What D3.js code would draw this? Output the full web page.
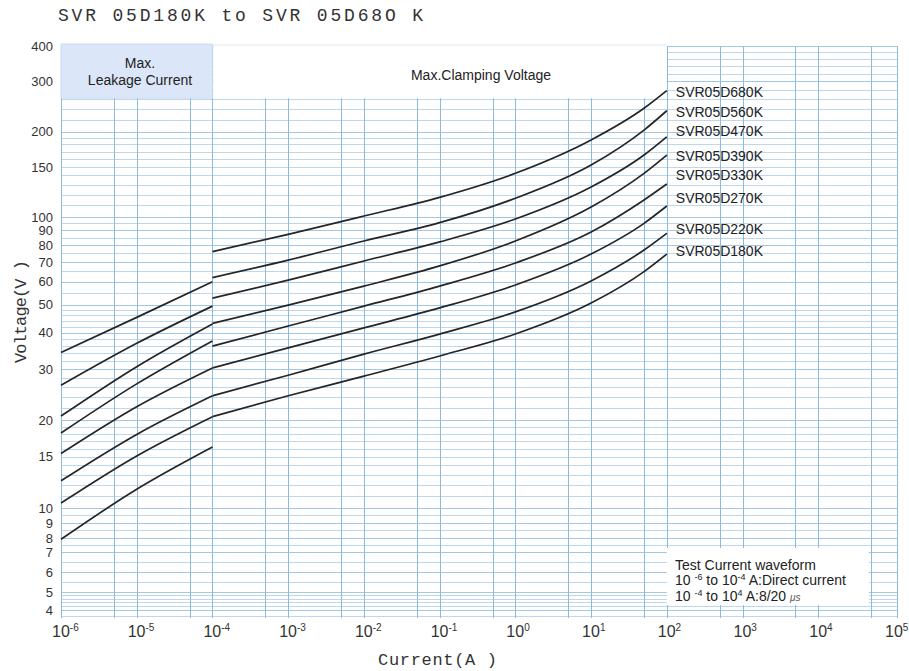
<!DOCTYPE html>
<html lang="en">
<head>
<meta charset="UTF-8">
<title>SVR 05D180K to SVR 05D680K</title>
<script src="https://cdn.jsdelivr.net/npm/d3@7"></script>
<style>
    body { margin: 0; background: #fff; }
    svg { display: block; }
</style>
</head>
<body>
<script>
'use strict';
// device names, top curve first
var models = ['SVR05D680K', 'SVR05D560K', 'SVR05D470K', 'SVR05D390K',
              'SVR05D330K', 'SVR05D270K', 'SVR05D220K', 'SVR05D180K'];

// leakage region (A) and voltages per model
var leakCurrent = [1e-6, 1e-5, 1e-4];
var leakVolts = [
    [34.2, 45.2, 59.9],
    [26.4, 36.8, 49.4],
    [20.7, 30.6, 42.9],
    [18.1, 26.7, 37.5],
    [15.4, 22.3, 30.3],
    [12.4, 17.9, 24.3],
    [10.4, 15.1, 20.6],
    [7.9, 11.6, 16.2]
];

// clamping region (A) and voltages per model
var clampCurrent = [1e-4, 1e-3, 1e-2, 1e-1, 1, 10, 50, 100];
var clampVolts = [
    [76.0, 87.2, 100.8, 117.3, 142.5, 186.7, 241.4, 278.5],
    [61.9, 71.1, 82.7, 95.6, 116.4, 152.4, 202.3, 236.7],
    [52.6, 60.7, 70.6, 82.1, 98.4, 127.5, 165.3, 191.6],
    [43.1, 49.8, 57.9, 67.9, 82.7, 108.4, 142.5, 165.3],
    [36.0, 42.2, 49.4, 57.9, 69.5, 88.8, 114.8, 130.7],
    [30.3, 35.5, 41.6, 48.7, 58.4, 74.6, 95.1, 109.3],
    [24.3, 28.6, 33.8, 39.6, 47.2, 60.3, 77.0, 87.9],
    [20.6, 24.3, 28.4, 33.3, 39.6, 50.6, 64.9, 74.6]
];
// where each name label sits (V)
var labelVolts = [275, 234, 201, 164, 140.6, 116.6, 91, 76.7];

var yTickValues = [4, 5, 6, 7, 8, 9, 10, 15, 20, 30, 40, 50, 60, 70, 80, 90, 100, 150, 200, 300, 400];
var xTickExp = [-6, -5, -4, -3, -2, -1, 0, 1, 2, 3, 4, 5];

var w = 909, h = 671;
var svg = d3.select('body').append('svg')
    .attr('width', w)
    .attr('height', h);

var x = d3.scaleLog().domain([1e-6, 1e5]).range([61, 894]);
// the printed paper is uneven below 10 V, so the scale follows its labels there
var y = d3.scaleLog()
    .domain([3.72, 4, 5, 6, 7, 8, 9, 10, 100, 400])
    .range([618, 610, 592, 572, 552, 538, 523, 508, 217, 46]);

var pLeft = x(1e-6), pRight = x(1e5), pTop = y(400), pBottom = y(3.72);

// ---- grid ----
var grid = svg.append('g').attr('shape-rendering', 'crispEdges');
var mant = [1, 1.1, 1.2, 1.3, 1.4, 1.5, 1.6, 1.7, 1.8, 1.9, 2, 2.2, 2.4, 2.6, 2.8,
            3, 3.2, 3.4, 3.6, 3.8, 4, 4.2, 4.4, 4.6, 4.8, 5, 5.5, 6, 6.5, 7, 7.5, 8, 8.5, 9, 9.5];
var hLines = [];
[1, 10, 100].forEach(function(d) {
    mant.forEach(function(m) {
        var v = +(m * d).toPrecision(4);
        if (v >= 3.72 && v <= 400) hLines.push(v);
    });
});
hLines.push(400);
grid.selectAll('line.h')
    .data(hLines)
    .enter()
    .append('line')
    .attr('class', 'h')
    .attr('x1', pLeft).attr('x2', pRight + 3)
    .attr('y1', function(d) { return Math.round(y(d)) + 0.5; })
    .attr('y2', function(d) { return Math.round(y(d)) + 0.5; })
    .attr('stroke', function(d) {
        var m = d / Math.pow(10, Math.floor(Math.log10(d) + 1e-9));
        return Math.abs(m - Math.round(m)) < 1e-6 ? '#a3c6e5' : '#bfd7ed';
    })
    .attr('stroke-width', 1);

var vLines = [];
for (var k = -6; k <= 4; k++) {
    vLines.push(Math.pow(10, k));
    vLines.push(5 * Math.pow(10, k));
}
vLines.push(1e5 * 1.1);
grid.selectAll('line.v')
    .data(vLines)
    .enter()
    .append('line')
    .attr('class', 'v')
    .attr('x1', function(d) { return Math.round(x(d)) + 0.5; })
    .attr('x2', function(d) { return Math.round(x(d)) + 0.5; })
    .attr('y1', pTop).attr('y2', pBottom)
    .attr('stroke', '#8dbbe0')
    .attr('stroke-width', 1);

// ---- header boxes ----
svg.append('rect')
    .attr('x', x(1e-6)).attr('y', pTop - 2)
    .attr('width', x(1e-4) - x(1e-6)).attr('height', y(262) - pTop + 2)
    .attr('fill', '#dbe7f8')
    .attr('stroke', '#c2d8ee').attr('stroke-width', 0.8);
svg.append('rect')
    .attr('x', x(1e-4) + 1).attr('y', pTop - 2)
    .attr('width', x(100) - x(1e-4) - 1).attr('height', y(262) - pTop + 2)
    .attr('fill', '#fff');
svg.append('line')
    .attr('x1', x(1e-4)).attr('x2', x(100))
    .attr('y1', pTop - 1).attr('y2', pTop - 1)
    .attr('stroke', '#d6e3ee').attr('stroke-width', 0.8);

var head = svg.append('g')
    .attr('font-family', '"Liberation Sans", Arial, sans-serif')
    .attr('font-size', '14px')
    .attr('fill', '#222')
    .attr('text-anchor', 'middle');
head.append('text').attr('x', 140).attr('y', 68).text('Max.');
head.append('text').attr('x', 140).attr('y', 85).text('Leakage Current');
head.append('text').attr('x', 481).attr('y', 80).text('Max.Clamping Voltage');

// ---- legend box ----
svg.append('rect')
    .attr('x', x(100)).attr('y', 548)
    .attr('width', 202).attr('height', 57)
    .attr('fill', '#fff');
var note = svg.append('text')
    .attr('font-family', '"Liberation Sans", Arial, sans-serif')
    .attr('font-size', '14px')
    .attr('fill', '#222');
function sup(parent, txt, after) {
    parent.append('tspan').attr('font-size', '9px').attr('dy', -5).text(txt);
    parent.append('tspan').attr('dy', 5).text(after);
}
note.append('tspan').attr('x', 675).attr('y', 570).text('Test Current waveform');
note.append('tspan').attr('x', 675).attr('y', 585).text('10 ');
sup(note, '-6', ' to 10');
sup(note, '-4', ' A:Direct current');
note.append('tspan').attr('x', 675).attr('y', 601).text('10 ');
sup(note, '-4', ' to 10');
sup(note, '4', ' A:8/20 ');
note.append('tspan').attr('font-size', '10px').attr('font-style', 'italic').attr('fill', '#555').text('\u03bcs');

// ---- curves ----
var line = d3.line()
    .x(function(d) { return x(d[0]); })
    .y(function(d) { return y(d[1]); })
    .curve(d3.curveMonotoneX);

var curves = svg.append('g')
    .attr('fill', 'none')
    .attr('stroke', '#252525')
    .attr('stroke-width', 1.7);
curves.selectAll('path.leak')
    .data(leakVolts)
    .enter()
    .append('path')
    .attr('class', 'leak')
    .attr('d', function(v) { return line(leakCurrent.map(function(c, i) { return [c, v[i]]; })); });
curves.selectAll('path.clamp')
    .data(clampVolts)
    .enter()
    .append('path')
    .attr('class', 'clamp')
    .attr('d', function(v) { return line(clampCurrent.map(function(c, i) { return [c, v[i]]; })); });

svg.append('g')
    .selectAll('text')
    .data(models)
    .enter()
    .append('text')
    .attr('x', x(100) + 9)
    .attr('y', function(d, i) { return y(labelVolts[i]); })
    .attr('dy', '0.36em')
    .attr('font-family', '"Liberation Sans", Arial, sans-serif')
    .attr('font-size', '14px')
    .attr('fill', '#222')
    .text(function(d) { return d; });

// ---- axes labels ----
svg.append('g')
    .selectAll('text')
    .data(yTickValues)
    .enter()
    .append('text')
    .attr('x', 53)
    .attr('y', function(d) { return y(d); })
    .attr('dy', '0.36em')
    .attr('text-anchor', 'end')
    .attr('font-family', '"Liberation Sans", Arial, sans-serif')
    .attr('font-size', '13px')
    .attr('fill', '#333')
    .text(function(d) { return d; });

var xt = svg.append('g')
    .selectAll('text')
    .data(xTickExp)
    .enter()
    .append('text')
    .attr('x', function(d) { return x(Math.pow(10, d)) - 9; })
    .attr('y', 637)
    .attr('font-family', '"Liberation Sans", Arial, sans-serif')
    .attr('font-size', '16px')
    .attr('fill', '#333');
xt.append('tspan').text('10');
xt.append('tspan')
    .attr('dy', -6)
    .attr('font-size', '10px')
    .text(function(d) { return d; });

svg.append('text')
    .attr('x', 378).attr('y', 665)
    .attr('textLength', 119)
    .attr('lengthAdjust', 'spacing')
    .attr('font-family', '"Liberation Mono", "Courier New", monospace')
    .attr('font-size', '17px')
    .attr('fill', '#333')
    .text('Current(A )');

svg.append('text')
    .attr('transform', 'translate(26,363) rotate(-90)')
    .attr('textLength', 103)
    .attr('lengthAdjust', 'spacing')
    .attr('font-family', '"Liberation Mono", "Courier New", monospace')
    .attr('font-size', '17px')
    .attr('fill', '#333')
    .text('Voltage(V )');

svg.append('text')
    .attr('x', 58).attr('y', 21)
    .attr('textLength', 365)
    .attr('lengthAdjust', 'spacing')
    .attr('font-family', '"Liberation Mono", "Courier New", monospace')
    .attr('font-size', '18px')
    .attr('fill', '#333')
    .text('SVR 05D180K to SVR 05D68O K');
</script>
</body>
</html>
